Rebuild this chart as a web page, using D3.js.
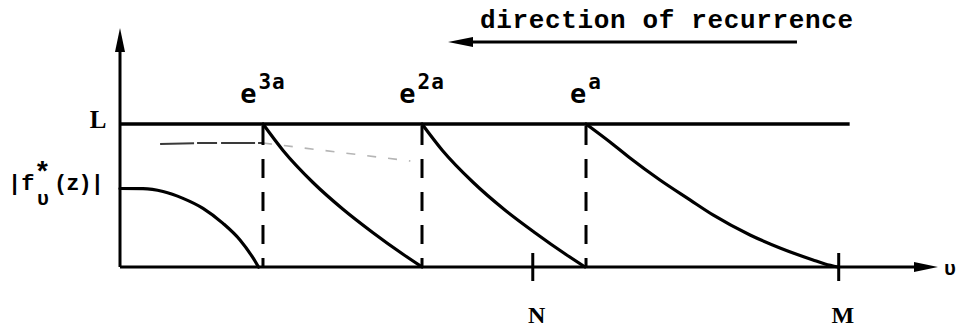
<!DOCTYPE html>
<html>
<head>
<meta charset="utf-8">
<script src="https://cdn.jsdelivr.net/npm/d3@7"></script>
<style>
  html, body { margin: 0; padding: 0; background: #fff; }
  svg { display: block; }
  .mono { font-family: "Liberation Mono", "Courier New", monospace; font-weight: bold; }
  .serif { font-family: "Liberation Serif", serif; font-weight: bold; }
  .sans { font-family: "DejaVu Sans Mono", monospace; font-weight: bold; }
</style>
</head>
<body>
<svg id="chart" width="956" height="329"></svg>
<script>
// ---- data (abscissa ν in arbitrary units, ordinate scaled so that L = 1) ----
const levelL = 1.0;
const levelEnd = 8.92;
const recurrenceX = [1.748, 3.692, 5.697];
const recurrenceLabels = ["3a", "2a", "a"];
const tickValues = [5.04, 8.78];
const tickLabels = ["N", "M"];

// |f*_ν(z)| near the origin
const curve0X = [0.000, 0.281, 0.526, 0.770, 1.015, 1.259, 1.467, 1.650, 1.693];
const curve0Y = [0.549, 0.548, 0.528, 0.480, 0.410, 0.305, 0.189, 0.042, 0.0];
// descents from the level L after each restart
const curve1X = [1.748, 1.993, 2.359, 2.726, 3.093, 3.460, 3.692];
const curve1Y = [1.000, 0.815, 0.591, 0.404, 0.240, 0.089, 0.0];
const curve2X = [3.692, 3.942, 4.319, 4.694, 5.073, 5.448, 5.685];
const curve2Y = [1.000, 0.815, 0.591, 0.404, 0.240, 0.089, 0.0];
const curve3X = [5.697, 5.990, 6.235, 6.601, 6.968, 7.249, 7.702, 8.068, 8.472, 8.619, 8.778];
const curve3Y = [1.000, 0.874, 0.762, 0.608, 0.469, 0.364, 0.224, 0.133, 0.049, 0.021, 0.0];

// faint pencil trace below L
const traceX = [0.49, 0.98, 1.748];
const traceY = [0.860, 0.867, 0.867];
const fadeX = [1.748, 3.55];
const fadeY = [0.867, 0.741];

// axis extents and the recurrence-direction arrow
const xAxisEnd = 10;
const yAxisTop = 1.671;
const arrowFrom = 8.276, arrowTo = 4.01, arrowLevel = 1.573;

// ---- scales ----
const svg = d3.select("#chart");
const x = d3.scaleLinear().domain([0, 10]).range([120, 938]);
const y = d3.scaleLinear().domain([0, 1]).range([267, 124]);

const zip = (xs, ys) => xs.map((v, i) => [v, ys[i]]);
const line = d3.line().x(d => x(d[0])).y(d => y(d[1]));
const smooth = d3.line().x(d => x(d[0])).y(d => y(d[1])).curve(d3.curveMonotoneX);

// ---- faint trace ----
svg.append("path")
  .attr("d", line(zip(traceX, traceY)))
  .attr("fill", "none").attr("stroke", "#3a3a3a").attr("stroke-width", 2)
  .attr("stroke-dasharray", "34,3,20,4");
svg.append("path")
  .attr("d", line(zip(fadeX, fadeY)))
  .attr("fill", "none").attr("stroke", "#b5b5b5").attr("stroke-width", 1.6)
  .attr("stroke-dasharray", "9,12");

// ---- axes ----
svg.append("line")
  .attr("x1", x(0)).attr("y1", y(0)).attr("x2", x(0)).attr("y2", y(yAxisTop) + 10)
  .attr("stroke", "#000").attr("stroke-width", 3);
svg.append("path")
  .attr("d", `M${x(0)},${y(yAxisTop)} L${x(0) - 5},${y(yAxisTop) + 24} L${x(0) + 5},${y(yAxisTop) + 24} Z`)
  .attr("fill", "#000");

svg.append("line")
  .attr("x1", x(0)).attr("y1", y(0)).attr("x2", x(xAxisEnd) - 10).attr("y2", y(0))
  .attr("stroke", "#000").attr("stroke-width", 3.2);
svg.append("path")
  .attr("d", `M${x(xAxisEnd)},${y(0)} L${x(xAxisEnd) - 24},${y(0) - 5} L${x(xAxisEnd) - 24},${y(0) + 5} Z`)
  .attr("fill", "#000");

// ticks N and M crossing the axis
const xAxis = d3.axisBottom(x)
  .tickValues(tickValues)
  .tickFormat((d, i) => tickLabels[i])
  .tickSize(14);
const gx = svg.append("g").attr("transform", `translate(0,${y(0)})`).call(xAxis);
gx.select(".domain").remove();
gx.selectAll(".tick line").attr("y1", -14).attr("y2", 14)
  .attr("stroke", "#000").attr("stroke-width", 3);
gx.selectAll(".tick text")
  .attr("class", "serif").attr("font-size", 24).attr("fill", "#000")
  .attr("y", 56).attr("dy", 0).attr("dx", 4);

// ---- level L ----
svg.append("line")
  .attr("x1", x(0)).attr("y1", y(levelL)).attr("x2", x(levelEnd)).attr("y2", y(levelL))
  .attr("stroke", "#000").attr("stroke-width", 3.6);

// ---- dashed restart lines ----
svg.selectAll(".restart").data(recurrenceX).join("line")
  .attr("class", "restart")
  .attr("x1", d => x(d)).attr("x2", d => x(d))
  .attr("y1", y(levelL) + 2).attr("y2", y(0))
  .attr("stroke", "#000").attr("stroke-width", 3)
  .attr("stroke-dasharray", "19,14");

// ---- curves ----
[zip(curve0X, curve0Y), zip(curve1X, curve1Y), zip(curve2X, curve2Y), zip(curve3X, curve3Y)]
  .forEach(pts => {
    svg.append("path").attr("d", smooth(pts))
      .attr("fill", "none").attr("stroke", "#000").attr("stroke-width", 3.2)
      .attr("stroke-linecap", "round");
  });

// ---- e^{ka} labels ----
recurrenceX.forEach((v, i) => {
  const t = svg.append("text").attr("class", "sans").attr("fill", "#000")
    .attr("x", x(v)).attr("y", 103).attr("text-anchor", "middle");
  t.append("tspan").attr("font-size", 27).text("e");
  t.append("tspan").attr("font-size", 21).attr("dy", -14).attr("dx", 2)
    .attr("letter-spacing", 1).text(recurrenceLabels[i]);
});

// ---- y-axis labels ----
svg.append("text").attr("class", "serif").attr("font-size", 25).attr("fill", "#000")
  .attr("x", 98).attr("y", 128).attr("text-anchor", "middle").text("L");

svg.append("text").attr("class", "mono").attr("font-size", 22).attr("fill", "#000")
  .attr("x", 8).attr("y", 190).text("|f");
svg.append("text").attr("class", "mono").attr("font-size", 28).attr("fill", "#000")
  .attr("x", 34).attr("y", 181).text("*");
svg.append("text").attr("class", "mono").attr("font-size", 20).attr("fill", "#000")
  .attr("x", 37).attr("y", 205).text("υ");
svg.append("text").attr("class", "mono").attr("font-size", 22).attr("fill", "#000")
  .attr("x", 54).attr("y", 190).attr("textLength", 50).text("(z)|");

// abscissa name
svg.append("text").attr("class", "mono").attr("font-size", 20).attr("fill", "#000")
  .attr("x", 944).attr("y", 275).text("υ");

// ---- direction of recurrence ----
svg.append("text").attr("class", "mono").attr("font-size", 26).attr("fill", "#000")
  .attr("x", 480).attr("y", 28).attr("textLength", 373).text("direction of recurrence");
svg.append("line")
  .attr("x1", x(arrowFrom)).attr("y1", y(arrowLevel))
  .attr("x2", x(arrowTo) + 12).attr("y2", y(arrowLevel))
  .attr("stroke", "#000").attr("stroke-width", 3);
svg.append("path")
  .attr("d", `M${x(arrowTo)},${y(arrowLevel)} L${x(arrowTo) + 25},${y(arrowLevel) - 5} L${x(arrowTo) + 25},${y(arrowLevel) + 5} Z`)
  .attr("fill", "#000");
</script>
</body>
</html>
